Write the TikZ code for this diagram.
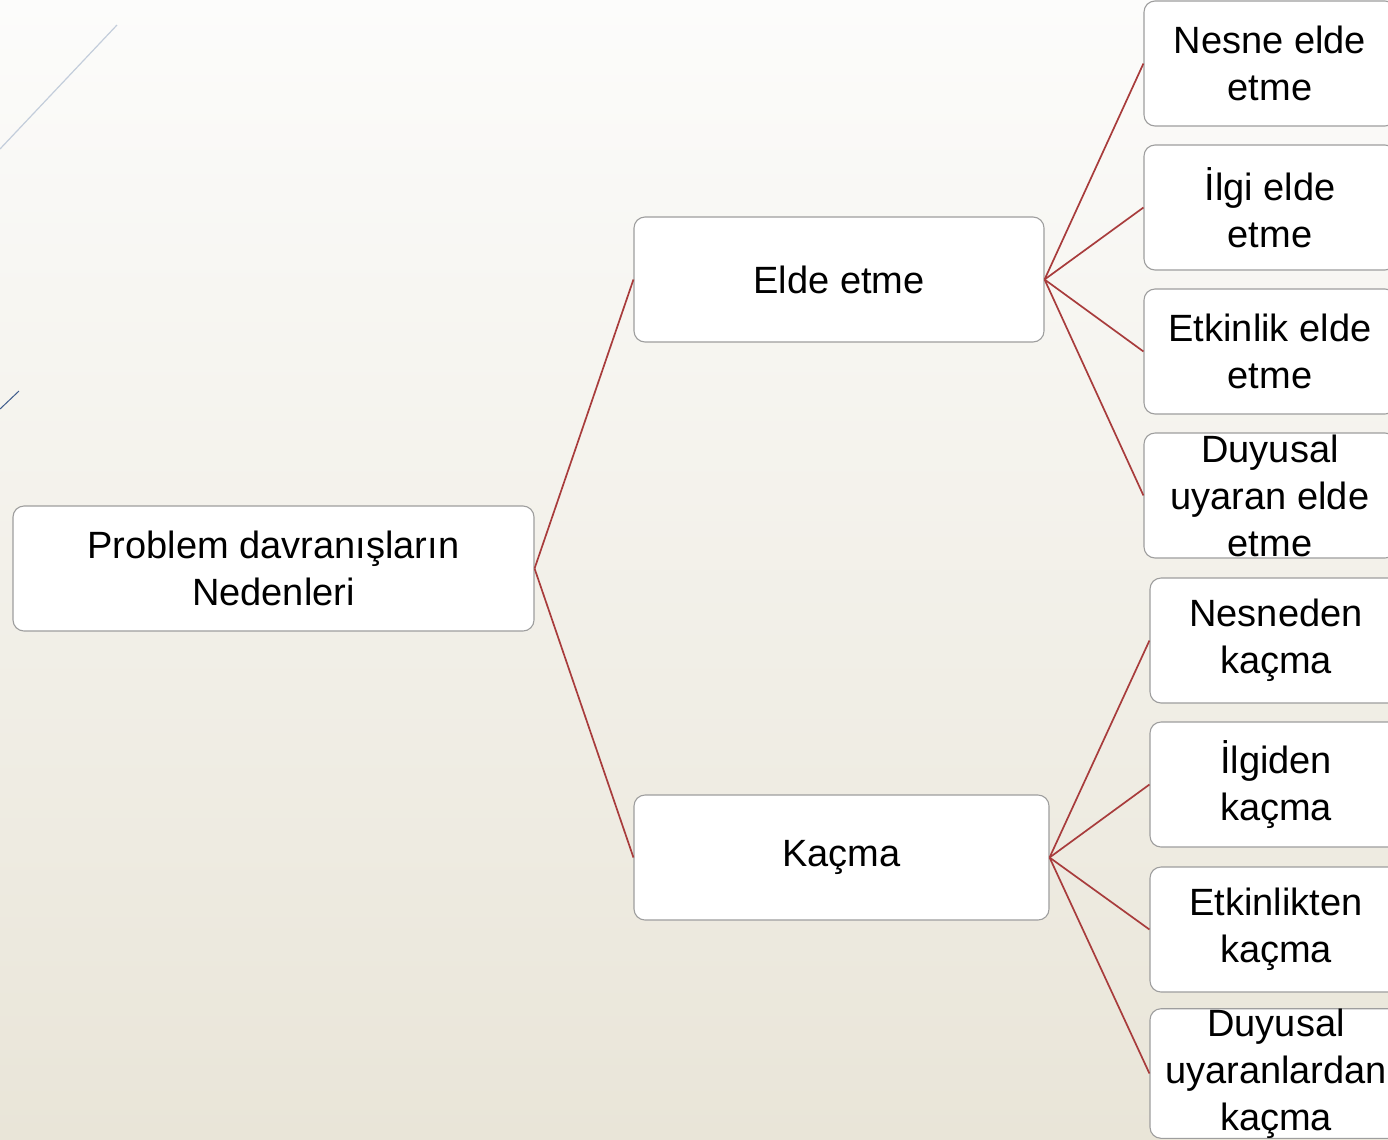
\documentclass[tikz,border=0pt]{standalone}
\usepackage{fontspec}
\setmainfont{Liberation Sans}
\definecolor{bgtop}{HTML}{FCFCFB}
\definecolor{bgbot}{HTML}{E9E5D8}
\definecolor{conn}{HTML}{A83C3C}
\definecolor{boxline}{HTML}{9E9E9E}
\definecolor{decoA}{HTML}{C3CDDB}
\definecolor{decoB}{HTML}{3E5C8C}
\begin{document}
\begin{tikzpicture}[x=1bp,y=-1bp,
  box/.style={draw=boxline,line width=1.1bp,fill=white,rounded corners=11bp,
    align=center,inner sep=0pt,minimum height=125bp,
    font=\fontsize{38bp}{47bp}\selectfont},
  link/.style={draw=conn,line width=1.7bp}]
\useasboundingbox (0,0) rectangle (1388,1139);
\clip (0,0) rectangle (1388,1139);
\shade[top color=bgtop,bottom color=bgbot] (0,0) rectangle (1388,1139);
\draw[color=decoA,line width=1.2bp] (117,25) -- (0,149);
\draw[color=decoB,line width=1bp] (19,391) -- (0,409);
% nodes
\node[box,minimum width=521bp] (root) at (273.5,568.5) {Problem davranışların\\Nedenleri};
\node[box,minimum width=410bp] (elde) at (839,279.5) {Elde etme};
\node[box,minimum width=415bp] (kacma) at (841.5,857.5) {Kaçma};
\node[box,minimum width=252bp] (e1) at (1270,63.5) {Nesne elde\\etme};
\node[box,minimum width=252bp] (e2) at (1270,207.5) {İlgi elde\\etme};
\node[box,minimum width=252bp] (e3) at (1270,351.5) {Etkinlik elde\\etme};
\node[box,minimum width=252bp] (e4) at (1270,495.5) {Duyusal\\uyaran elde\\etme};
\node[box,minimum width=252bp] (k1) at (1276,640.5) {Nesneden\\kaçma};
\node[box,minimum width=252bp] (k2) at (1276,784.5) {İlgiden\\kaçma};
\node[box,minimum width=252bp] (k3) at (1276,929.5) {Etkinlikten\\kaçma};
\node[box,minimum width=252bp] (k4) at (1276,1073.5) {Duyusal\\uyaranlardan\\kaçma};
% connectors
\draw[link] (root.east) -- (elde.west);
\draw[link] (root.east) -- (kacma.west);
\foreach \c in {e1,e2,e3,e4} \draw[link] (elde.east) -- (\c.west);
\foreach \c in {k1,k2,k3,k4} \draw[link] (kacma.east) -- (\c.west);
\end{tikzpicture}
\end{document}
